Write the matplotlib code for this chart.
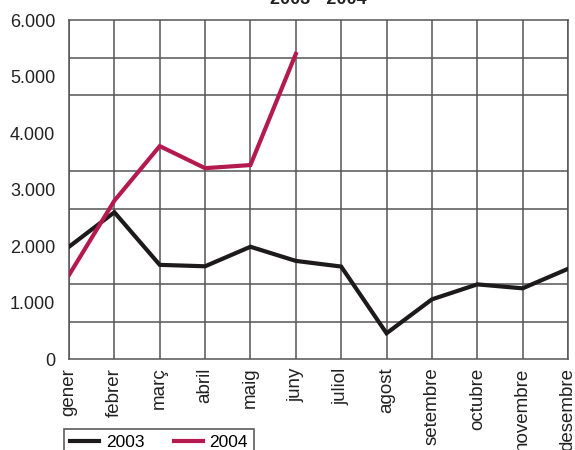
import matplotlib.pyplot as plt
from matplotlib.ticker import FixedLocator

plt.rcParams['font.family'] = ['Liberation Sans', 'DejaVu Sans']

mesos = ['gener', 'febrer', 'març', 'abril', 'maig', 'juny', 'juliol',
         'agost', 'setembre', 'octubre', 'novembre', 'desembre']
v2003 = [1990, 2600, 1670, 1645, 1990, 1740, 1640, 460, 1060, 1325, 1255, 1600]
v2004 = [1490, 2805, 3770, 3380, 3435, 5400]
yticks = [0, 1000, 2000, 3000, 4000, 5000, 6000]
ylabels = ['0', '1.000', '2.000', '3.000', '4.000', '5.000', '6.000']

fig = plt.figure(figsize=(5.75, 4.5), dpi=100)
ax = fig.add_axes([69/575, 1-359.3/450, (568-69)/575, (359.3-20)/450])

x = list(range(len(mesos)))
ax.plot(x, v2003, color='#1c1a1a', lw=3, label='2003', solid_joinstyle='miter', zorder=3)
ax.plot(range(len(v2004)), v2004, color='#b51a4e', lw=3, label='2004', solid_joinstyle='miter', zorder=4)

ax.set_xlim(0, 11)
ax.set_ylim(0, 6000)
ax.set_xticks(x)
ax.set_xticklabels(mesos, rotation=90, fontsize=13.5, color='#222')
ax.set_yticks(yticks)
ax.set_yticklabels(ylabels, fontsize=13, color='#222')
# horizontal grid every 2000/3
ax.yaxis.set_minor_locator(FixedLocator([i * 6000 / 9 for i in range(10)]))
ax.tick_params(axis='both', which='both', length=0)
ax.tick_params(axis='y', pad=10)
ax.tick_params(axis='x', pad=6)
ax.grid(True, which='minor', axis='y', color='#555', lw=1.1)
ax.grid(True, which='major', axis='x', color='#555', lw=1.1)
for s in ax.spines.values():
    s.set_color('#555')
    s.set_linewidth(1.1)

fig.text(318.5/575, 1-4/450, '2003 - 2004', ha='center', va='baseline',
         fontsize=13, fontweight='bold', color='#222')

leg = fig.legend(loc='upper left', bbox_to_anchor=(64/575, 1-429/450), ncol=2,
                 fontsize=12.5, frameon=True, fancybox=False, handlelength=1.67,
                 handletextpad=0.4, columnspacing=1.67, borderaxespad=0,
                 borderpad=0.35)
leg.get_frame().set_edgecolor('#333')
leg.get_frame().set_linewidth(1.2)

fig.savefig('out.png', dpi=100)
